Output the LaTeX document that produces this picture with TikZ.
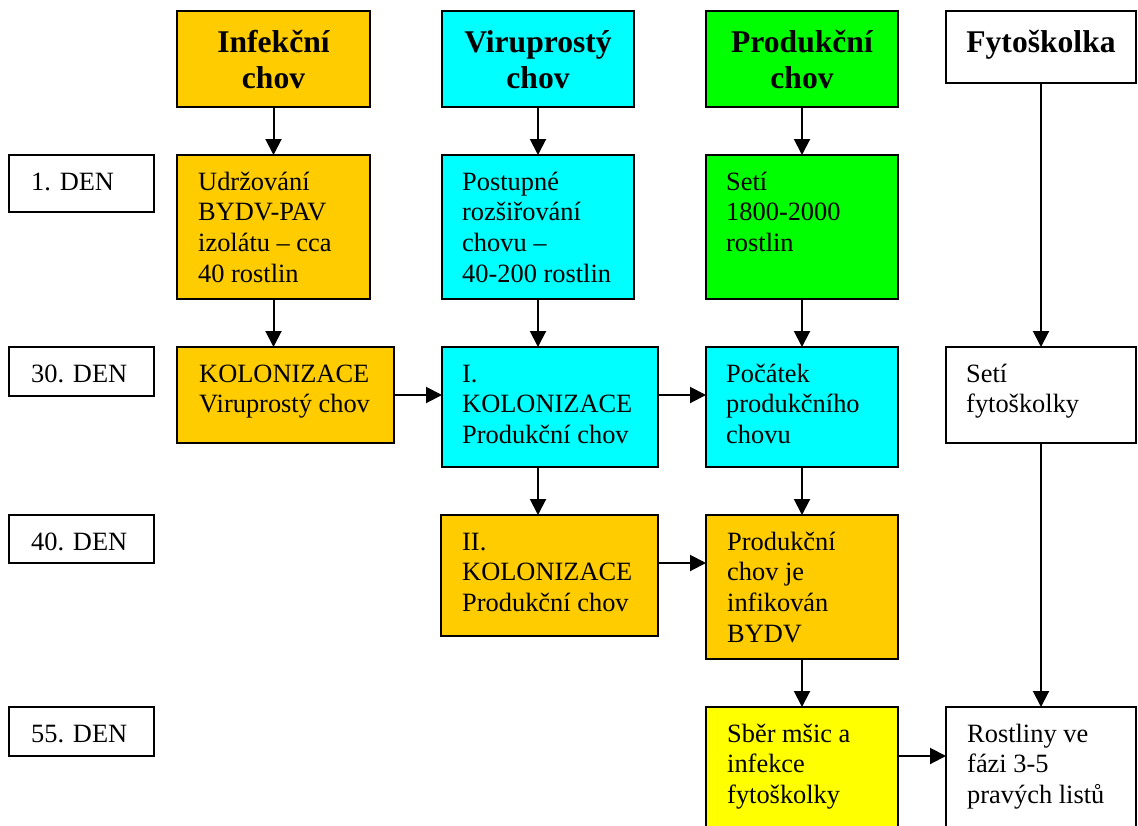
\documentclass[tikz,border=0pt]{standalone}
\usepackage{fontspec}
\setmainfont{Liberation Serif}
\usetikzlibrary{arrows.meta}
\definecolor{corange}{HTML}{FFCC00}
\definecolor{ccyan}{HTML}{00FFFF}
\definecolor{cgreen}{HTML}{00FF00}
\definecolor{cyellow}{HTML}{FFFF00}
\begin{document}
\begin{tikzpicture}[x=1pt,y=-1pt,
  box/.style={draw=black, line width=1.8pt, rectangle, inner sep=0pt, outer sep=0pt, anchor=north west},
  body/.style={anchor=north west, inner sep=0pt, align=left, font=\fontsize{26.4}{30.7}\selectfont},
  head/.style={anchor=north, inner sep=0pt, align=center, font=\bfseries\fontsize{31.6}{36.5}\selectfont},
  arr/.style={line width=2pt, -{Triangle[length=16pt,width=16pt]}}]
\useasboundingbox (0,0) rectangle (1138,825);
\clip (0,0) rectangle (1138,825);
\fill[white] (0,0) rectangle (1138,825);
% headers
\node[box, fill=corange, minimum width=193, minimum height=96] (h1) at (177,11) {};
\node[box, fill=ccyan, minimum width=192, minimum height=96] (h2) at (442,11) {};
\node[box, fill=cgreen, minimum width=192, minimum height=96] (h3) at (706,11) {};
\node[box, fill=white, minimum width=190, minimum height=72] (h4) at (946,11) {};
\node[head] (th1) at ([shift={(0,15.45)}]h1.north) {\strut Infekční\\chov};
\node[head] (th2) at ([shift={(0,15.45)}]h2.north) {\strut Viruprostý\\chov};
\node[head] (th3) at ([shift={(0,15.45)}]h3.north) {\strut Produkční\\chov};
\node[head] (th4) at ([shift={(0,15.45)}]h4.north) {\strut Fytoškolka};
% day boxes
\node[box, fill=white, minimum width=145, minimum height=57] (d1) at (9,155) {};
\node[box, fill=white, minimum width=145, minimum height=49] (d2) at (9,347) {};
\node[box, fill=white, minimum width=145, minimum height=48] (d3) at (9,515) {};
\node[box, fill=white, minimum width=145, minimum height=49] (d4) at (9,707) {};
\node[body] (td1) at ([shift={(22,13.51)}]d1.north west) {\strut 1. DEN};
\node[body] (td2) at ([shift={(22,13.51)}]d2.north west) {\strut 30. DEN};
\node[body] (td3) at ([shift={(22,13.51)}]d3.north west) {\strut 40. DEN};
\node[body] (td4) at ([shift={(22,13.51)}]d4.north west) {\strut 55. DEN};
% row 1
\node[box, fill=corange, minimum width=193, minimum height=144] (a1) at (177,155) {};
\node[box, fill=ccyan, minimum width=192, minimum height=144] (b1) at (442,155) {};
\node[box, fill=cgreen, minimum width=192, minimum height=144] (c1) at (706,155) {};
\node[body] (ta1) at ([shift={(21,13.51)}]a1.north west) {\strut Udržování\\BYDV-PAV\\izolátu – cca\\40 rostlin};
\node[body] (tb1) at ([shift={(20,13.51)}]b1.north west) {\strut Postupné\\rozšiřování\\chovu –\\40-200 rostlin};
\node[body] (tc1) at ([shift={(20,13.51)}]c1.north west) {\strut Setí\\1800-2000\\rostlin};
% row 2
\node[box, fill=corange, minimum width=217, minimum height=96] (a2) at (177,347) {};
\node[box, fill=ccyan, minimum width=216, minimum height=120] (b2) at (442,347) {};
\node[box, fill=ccyan, minimum width=192, minimum height=120] (c2) at (706,347) {};
\node[box, fill=white, minimum width=190, minimum height=96] (e2) at (946,347) {};
\node[body] (ta2) at ([shift={(22,13.51)}]a2.north west) {\strut KOLONIZACE\\Viruprostý chov};
\node[body] (tb2) at ([shift={(20,13.51)}]b2.north west) {\strut I.\\KOLONIZACE\\Produkční chov};
\node[body] (tc2) at ([shift={(20,13.51)}]c2.north west) {\strut Počátek\\produkčního\\chovu};
\node[body] (te2) at ([shift={(20,13.51)}]e2.north west) {\strut Setí\\fytoškolky};
% row 3
\node[box, fill=corange, minimum width=217, minimum height=121] (b3) at (441,515) {};
\node[box, fill=corange, minimum width=192, minimum height=144] (c3) at (706,515) {};
\node[body] (tb3) at ([shift={(21,13.51)}]b3.north west) {\strut II.\\KOLONIZACE\\Produkční chov};
\node[body] (tc3) at ([shift={(21,13.51)}]c3.north west) {\strut Produkční\\chov je\\infikován\\BYDV};
% row 4
\node[box, fill=cyellow, minimum width=192, minimum height=144] (c4) at (706,707) {};
\node[box, fill=white, minimum width=190, minimum height=144] (e4) at (946,707) {};
\node[body] (tc4) at ([shift={(21,13.51)}]c4.north west) {\strut Sběr mšic a\\infekce\\fytoškolky};
\node[body] (te4) at ([shift={(21,13.51)}]e4.north west) {\strut Rostliny ve\\fázi 3-5\\pravých listů};
% row guide coordinates
\coordinate (r3) at (0,563);
\coordinate (r4) at (0,756);
% arrows
\draw[arr] (h1.south) -- (a1.north);
\draw[arr] (a1.south) -- (a1.south |- a2.north);
\draw[arr] (h2.south) -- (b1.north);
\draw[arr] (b1.south) -- (b1.south |- b2.north);
\draw[arr] (b1.south |- b2.south) -- (b1.south |- b3.north);
\draw[arr] (h3.south) -- (c1.north);
\draw[arr] (c1.south) -- (c2.north);
\draw[arr] (c2.south) -- (c3.north);
\draw[arr] (c3.south) -- (c4.north);
\draw[arr] (h4.south) -- (e2.north);
\draw[arr] (e2.south) -- (e4.north);
\draw[arr] (a2.east) -- (a2.east -| b2.west);
\draw[arr] (b2.east |- a2.east) -- (c2.west |- a2.east);
\draw[arr] (b3.east |- r3) -- (c3.west |- r3);
\draw[arr] (c4.east |- r4) -- (e4.west |- r4);
\end{tikzpicture}
\end{document}
